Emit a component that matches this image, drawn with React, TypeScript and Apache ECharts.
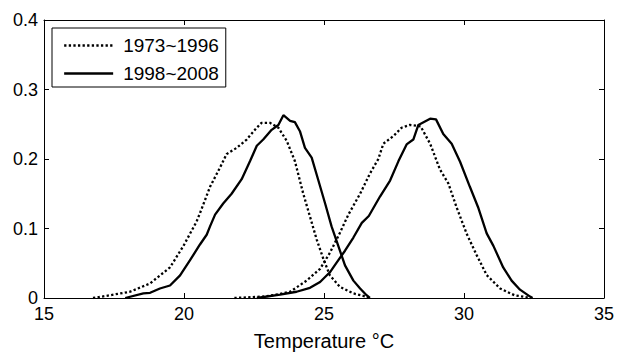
import React, { useEffect, useRef } from "react";
import * as echarts from "echarts";

const xTicks = { min: 15, max: 35, interval: 5 };
const yTicks = { min: 0, max: 0.4, interval: 0.1 };
const seriesNames = ["1973~1996", "1998~2008"];

const early1: [number, number][] = [
  [16.75, 0], [17.36, 0.004], [18.07, 0.009], [18.79, 0.021], [19.5, 0.044], [19.98, 0.075],
  [20.45, 0.11], [20.57, 0.122], [20.93, 0.16], [21.29, 0.188], [21.52, 0.207], [21.88, 0.216],
  [22.24, 0.228], [22.6, 0.245], [22.77, 0.252], [23.07, 0.252], [23.37, 0.245], [23.67, 0.226],
  [23.96, 0.197], [24.26, 0.15], [24.5, 0.117], [24.74, 0.084], [24.98, 0.056], [25.21, 0.0325],
  [25.57, 0.016], [26.05, 0.0066], [26.5, 0.002], [26.6, 0],
];
const early2: [number, number][] = [
  [21.8, 0], [22.8, 0.002], [23.19, 0.004], [23.79, 0.009], [24.38, 0.025], [24.86, 0.042],
  [25.21, 0.065], [25.57, 0.094], [25.87, 0.12], [26.29, 0.15], [26.64, 0.179], [26.94, 0.2],
  [27.12, 0.222], [27.48, 0.233], [27.77, 0.245], [28.07, 0.249], [28.45, 0.247], [28.79, 0.222],
  [29.14, 0.185], [29.44, 0.165], [29.74, 0.13], [30.1, 0.092], [30.45, 0.062], [30.81, 0.033],
  [31.29, 0.0137], [31.8, 0.004], [32.24, 0.001], [32.4, 0],
];
const late1: [number, number][] = [
  [17.9, 0], [18.55, 0.0066], [18.79, 0.0075], [19.14, 0.0137], [19.5, 0.018], [19.86, 0.0325],
  [20.21, 0.054], [20.57, 0.077], [20.81, 0.091], [20.93, 0.103], [21.11, 0.12], [21.4, 0.136],
  [21.7, 0.15], [22.06, 0.171], [22.36, 0.197], [22.6, 0.219], [22.83, 0.228], [23.13, 0.242],
  [23.37, 0.249], [23.55, 0.263], [23.79, 0.255], [23.96, 0.253], [24.14, 0.24], [24.32, 0.216],
  [24.56, 0.202], [24.8, 0.169], [25.04, 0.136], [25.27, 0.103], [25.51, 0.075], [25.75, 0.047],
  [26.05, 0.025], [26.29, 0.0137], [26.52, 0.004], [26.64, 0],
];
const late2: [number, number][] = [
  [22.6, 0], [23.43, 0.005], [24.02, 0.009], [24.5, 0.0146], [24.86, 0.023], [25.21, 0.037],
  [25.45, 0.051], [25.75, 0.068], [26.05, 0.087], [26.35, 0.108], [26.6, 0.118], [27.0, 0.146],
  [27.36, 0.169], [27.66, 0.197], [27.95, 0.221], [28.19, 0.228], [28.37, 0.249], [28.79, 0.258],
  [29.0, 0.257], [29.26, 0.236], [29.56, 0.222], [29.86, 0.196], [30.21, 0.16], [30.5, 0.131],
  [30.81, 0.093], [31.05, 0.075], [31.4, 0.044], [31.7, 0.025], [32.0, 0.012], [32.36, 0.002],
  [32.45, 0],
];

const FONT = "'Liberation Sans', Arial, sans-serif";

export default function App() {
  const ref = useRef<HTMLDivElement>(null);
  useEffect(() => {
    if (!ref.current) return;
    const chart = echarts.init(ref.current, undefined, { renderer: "svg" });
    const axisLine = { show: true, onZero: false, lineStyle: { color: "#000", width: 1 } };
    const tick = { show: true, inside: true, length: 5, lineStyle: { color: "#000", width: 1 } };
    const mkLine = (name: string, data: [number, number][], dotted: boolean) => ({
      type: "line",
      name,
      data,
      symbol: "none",
      showSymbol: false,
      smooth: false,
      xAxisIndex: 0,
      yAxisIndex: 0,
      lineStyle: { color: "#000", width: 2.3, type: dotted ? "dotted" : "solid" },
      itemStyle: { color: "#000" },
    });
    chart.setOption({
      animation: false,
      backgroundColor: "#fff",
      textStyle: { fontFamily: FONT },
      grid: { left: 44, right: 14, top: 20, bottom: 53 },
      legend: {
        orient: "vertical",
        left: 52,
        top: 28,
        padding: [8, 7, 4, 11],
        itemGap: 9,
        itemWidth: 49,
        itemHeight: 18,
        borderColor: "#000",
        borderWidth: 1,
        borderRadius: 0,
        backgroundColor: "#fff",
        itemStyle: { opacity: 0, borderWidth: 0 },
        textStyle: { fontSize: 19, fontFamily: FONT, color: "#000", padding: [0, 0, 0, 5] },
        data: [
          { name: seriesNames[0], lineStyle: { color: "#000", width: 2.3, type: "dotted", opacity: 1 } },
          { name: seriesNames[1], lineStyle: { color: "#000", width: 2.3, type: "solid", opacity: 1 } },
        ],
      },
      xAxis: [
        {
          type: "value",
          position: "bottom",
          ...xTicks,
          axisLine,
          axisTick: tick,
          splitLine: { show: false },
          axisLabel: { fontSize: 18, color: "#000", margin: 7, fontFamily: FONT },
          name: "Temperature °C",
          nameLocation: "middle",
          nameGap: 33,
          nameTextStyle: { fontSize: 20, color: "#000", fontFamily: FONT },
        },
        {
          type: "value",
          position: "top",
          ...xTicks,
          axisLine,
          axisTick: tick,
          splitLine: { show: false },
          axisLabel: { show: false },
        },
      ],
      yAxis: [
        {
          type: "value",
          position: "left",
          ...yTicks,
          axisLine,
          axisTick: tick,
          splitLine: { show: false },
          axisLabel: { fontSize: 18, color: "#000", margin: 6, fontFamily: FONT },
        },
        {
          type: "value",
          position: "right",
          ...yTicks,
          axisLine,
          axisTick: tick,
          splitLine: { show: false },
          axisLabel: { show: false },
        },
      ],
      series: [
        mkLine(seriesNames[0], early1, true),
        mkLine(seriesNames[1], late1, false),
        mkLine(seriesNames[0], early2, true),
        mkLine(seriesNames[1], late2, false),
      ],
    });
    return () => chart.dispose();
  }, []);
  return <div ref={ref} style={{ width: 618, height: 356, position: "absolute", left: 0, top: 0 }} />;
}
